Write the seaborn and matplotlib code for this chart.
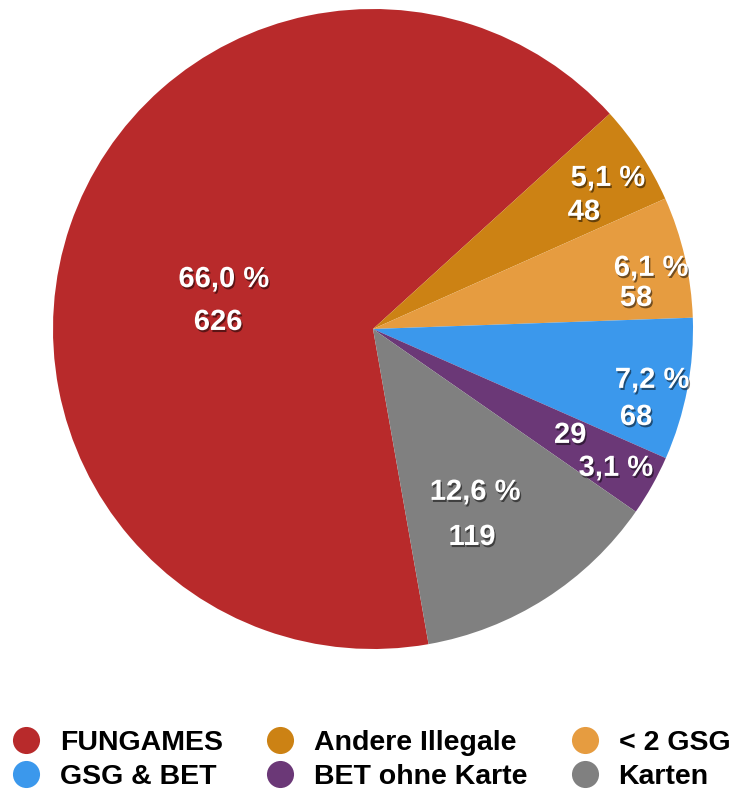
import matplotlib
matplotlib.use("Agg")
import matplotlib.pyplot as plt
import matplotlib.patheffects as pe
from matplotlib.lines import Line2D
import seaborn as sns

# Data
categories = ["FUNGAMES", "Andere Illegale", "< 2 GSG", "GSG & BET", "BET ohne Karte", "Karten"]
counts = [626, 48, 58, 68, 29, 119]
colors = ["#B82A2B", "#CC8214", "#E69C40", "#3B98EC", "#6B3877", "#808080"]

# Label anchors (pie radius = 1): percent line and count line per slice
pct_pos = [(-0.466, 0.156), (0.734, 0.472), (0.869, 0.191),
           (0.872, -0.159), (0.759, -0.434), (0.319, -0.509)]
cnt_pos = [(-0.484, 0.022), (0.659, 0.366), (0.822, 0.097),
           (0.822, -0.275), (0.616, -0.331), (0.309, -0.650)]

sns.set_style("white")
plt.rcParams["font.family"] = ["Liberation Sans", "DejaVu Sans"]
palette = sns.color_palette(colors)

W, H = 737, 791
fig = plt.figure(figsize=(W / 100, H / 100), dpi=100)
cx, cy, R = 373, 791 - 329, 320
ax = fig.add_axes([(cx - R) / W, (cy - R) / H, 2 * R / W, 2 * R / H])

ax.pie(counts, colors=palette, startangle=-80, counterclock=False,
       radius=1, center=(0, 0), wedgeprops=dict(linewidth=0))
ax.set_xlim(-1, 1)
ax.set_ylim(-1, 1)
ax.set_aspect("auto")
ax.axis("off")

total = sum(counts)
shadow = [pe.withSimplePatchShadow(offset=(1, -1.5), shadow_rgbFace="black", alpha=0.5)]
for n, p1, p2 in zip(counts, pct_pos, cnt_pos):
    pct = f"{100 * n / total:.1f}".replace(".", ",") + " %"
    ax.text(*p1, pct, ha="center", va="center", color="white", fontsize=21,
            fontweight="bold", path_effects=shadow)
    ax.text(*p2, str(n), ha="center", va="center", color="white", fontsize=21,
            fontweight="bold", path_effects=shadow)

# Legend laid out row by row (matplotlib fills columns first)
ncol = 3
order = [i for c in range(ncol) for i in range(c, len(categories), ncol)]
handles = [Line2D([], [], marker="o", linestyle="", markersize=19.5,
                  markerfacecolor=palette[i], markeredgewidth=0) for i in order]
labels = [categories[i] for i in order]
leg = fig.legend(handles, labels, ncol=ncol, loc="center left",
                 bbox_to_anchor=(12 / W, 1 - 760 / H), frameon=False,
                 prop=dict(size=20.5, weight="bold"), handlelength=1.0,
                 handletextpad=0.68, columnspacing=1.52, labelspacing=0.3,
                 borderpad=0, borderaxespad=0)
for t in leg.get_texts():
    t.set_color("black")

fig.savefig("out.png", dpi=100)
